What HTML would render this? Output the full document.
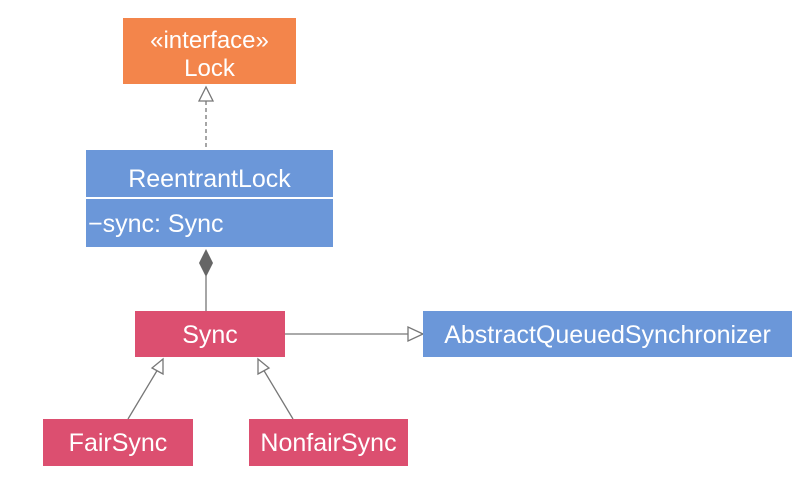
<!DOCTYPE html>
<html><head><meta charset="utf-8"><style>
html,body{margin:0;padding:0;background:#fff;}
svg{display:block;}
text{font-family:"Liberation Sans",sans-serif;fill:#fff;}
</style></head><body>
<svg width="808" height="486" viewBox="0 0 808 486" xmlns="http://www.w3.org/2000/svg">
<rect width="808" height="486" fill="#fff"/>
<!-- Lock -->
<rect x="123" y="18" width="173" height="66" fill="#f3854b"/>
<text x="209.5" y="48" font-size="24" text-anchor="middle">«interface»</text>
<text x="209.5" y="76" font-size="24" text-anchor="middle">Lock</text>
<!-- realization -->
<line x1="206" y1="101" x2="206" y2="150" stroke="#777" stroke-width="1.3" stroke-dasharray="4,3"/>
<polygon points="206,87 199,101 213,101" fill="#fff" stroke="#777" stroke-width="1.3"/>
<!-- ReentrantLock -->
<rect x="86" y="150" width="247" height="97" fill="#6b97d9"/>
<line x1="86" y1="198" x2="333" y2="198" stroke="#fff" stroke-width="2"/>
<text x="209.5" y="187" font-size="25" text-anchor="middle">ReentrantLock</text>
<text x="88" y="232" font-size="25">−sync: Sync</text>
<!-- composition -->
<line x1="206" y1="276" x2="206" y2="311" stroke="#777" stroke-width="1.3"/>
<polygon points="206,249 213,263 206,277 199,263" fill="#666"/>
<!-- Sync -->
<rect x="135" y="311" width="150" height="46" fill="#dc4f70"/>
<text x="210" y="343" font-size="25" text-anchor="middle">Sync</text>
<!-- Sync -> AQS -->
<line x1="285" y1="334" x2="408" y2="334" stroke="#777" stroke-width="1.3"/>
<polygon points="423,334 408,327 408,341" fill="#fff" stroke="#777" stroke-width="1.3"/>
<!-- AQS -->
<rect x="423" y="311" width="369" height="46" fill="#6b97d9"/>
<text x="607.5" y="343" font-size="25" text-anchor="middle">AbstractQueuedSynchronizer</text>
<!-- FairSync -->
<line x1="128" y1="419" x2="158" y2="369" stroke="#777" stroke-width="1.3"/>
<polygon points="163,359 152,368 163,374" fill="#fff" stroke="#777" stroke-width="1.3"/>
<rect x="43" y="419" width="150" height="47" fill="#dc4f70"/>
<text x="118" y="451" font-size="25" text-anchor="middle">FairSync</text>
<!-- NonfairSync -->
<line x1="293" y1="419" x2="263" y2="369" stroke="#777" stroke-width="1.3"/>
<polygon points="258,359 258,374 269,368" fill="#fff" stroke="#777" stroke-width="1.3"/>
<rect x="249" y="419" width="159" height="47" fill="#dc4f70"/>
<text x="328.5" y="451" font-size="25" text-anchor="middle">NonfairSync</text>
</svg>
</body></html>
